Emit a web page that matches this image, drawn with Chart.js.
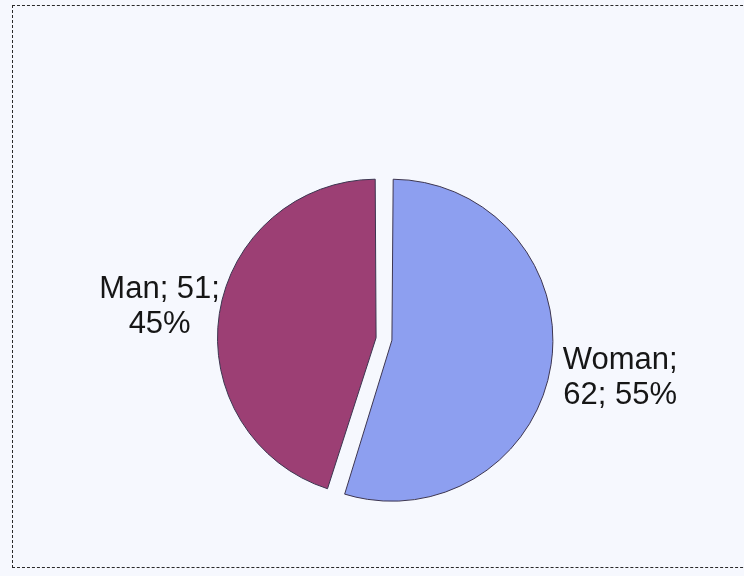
<!DOCTYPE html>
<html>
<head>
<meta charset="utf-8">
<script src="https://cdn.jsdelivr.net/npm/chart.js@4.4.1/dist/chart.umd.min.js"></script>
<style>
  html, body { margin: 0; padding: 0; background: #f6f8fe; }
  #wrap { position: relative; width: 744px; height: 576px; overflow: hidden; }
  #frame {
    position: absolute; left: 12px; top: 5px; width: 760px; height: 561px;
    border-left: 1px dashed #2a2a2a; border-top: 1px dashed #2a2a2a; border-bottom: 1px dashed #2a2a2a;
    pointer-events: none;
  }
  canvas { position: absolute; left: 0; top: 0; }
</style>
</head>
<body>
<div id="wrap">
  <canvas id="c" width="744" height="576"></canvas>
  <div id="frame"></div>
</div>
<script>
// Respondents by gender
const categories = ['Woman', 'Man'];
const counts = [62, 51];
const sliceColors = ['#8d9ff0', '#9c3f74'];

// Distance of each label from the slice edge, in px
const labelGap = [70, 58];

const total = counts.reduce((a, b) => a + b, 0);

function wrapWords(ctx, text, maxWidth) {
  const words = text.split(' ');
  const lines = [];
  let line = '';
  for (const w of words) {
    const test = line ? line + ' ' + w : w;
    if (line && ctx.measureText(test).width > maxWidth) {
      lines.push(line);
      line = w;
    } else {
      line = test;
    }
  }
  if (line) lines.push(line);
  return lines;
}

// Category; value; percent labels placed outside each slice along its bisector
const sliceLabels = {
  id: 'sliceLabels',
  afterDatasetsDraw(chart) {
    const ctx = chart.ctx;
    const meta = chart.getDatasetMeta(0);
    ctx.save();
    ctx.font = '31px "Liberation Sans", Arial, sans-serif';
    ctx.fillStyle = '#161616';
    ctx.textAlign = 'center';
    ctx.textBaseline = 'alphabetic';
    meta.data.forEach((arc, i) => {
      const v = counts[i];
      const pct = Math.round(v / total * 100);
      const text = `${categories[i]}; ${v}; ${pct}%`;
      const lines = wrapWords(ctx, text, 128);
      const mid = (arc.startAngle + arc.endAngle) / 2;
      const shift = (arc.options.offset || 0) / 4;
      const cx = arc.x + Math.cos(mid) * shift;
      const cy = arc.y + Math.sin(mid) * shift;
      const d = arc.outerRadius + 8 + labelGap[i];
      const lx = cx + Math.cos(mid) * d;
      const ly = cy + Math.sin(mid) * d;
      const lineH = 35;
      const first = ly - 6 - (lines.length - 2) * lineH / 2;
      lines.forEach((ln, k) => ctx.fillText(ln, lx, first + k * lineH));
    });
    ctx.restore();
  }
};

new Chart(document.getElementById('c'), {
  type: 'pie',
  data: {
    labels: categories,
    datasets: [{
      data: counts,
      backgroundColor: sliceColors,
      borderColor: '#3c3550',
      borderWidth: 1,
      offset: 32
    }]
  },
  options: {
    responsive: false,
    animation: false,
    radius: 153,
    layout: { padding: { left: 24, right: 0, top: 102, bottom: 0 } },
    plugins: {
      legend: { display: false },
      tooltip: { enabled: false }
    },
    events: []
  },
  plugins: [sliceLabels]
});
</script>
</body>
</html>
